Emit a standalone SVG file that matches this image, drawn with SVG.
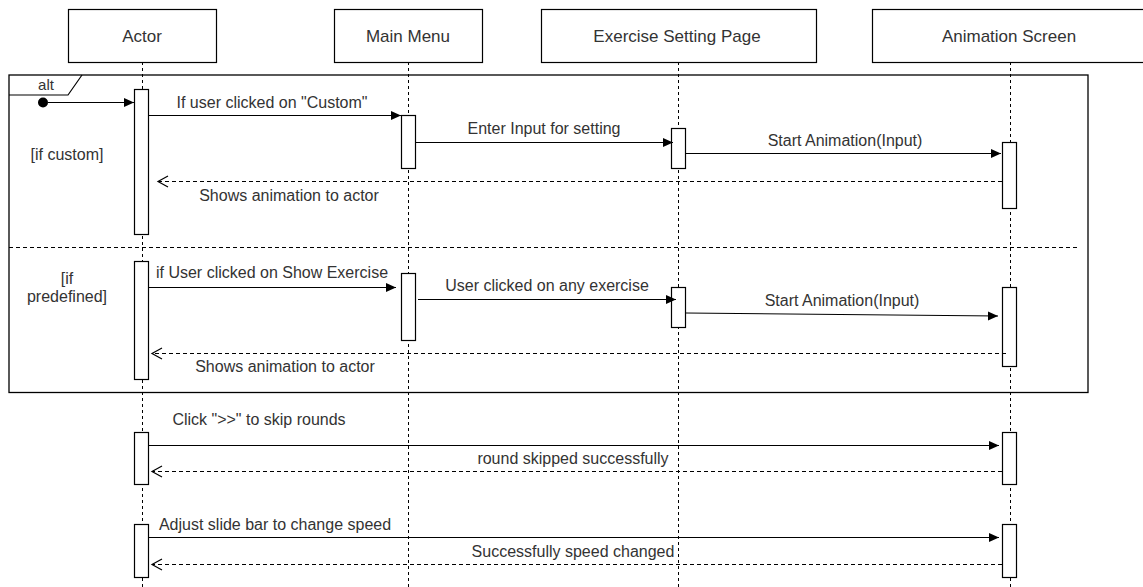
<svg xmlns="http://www.w3.org/2000/svg" width="1143" height="587" viewBox="0 0 1143 587">
  <style>
    text { font-family: "Liberation Sans", Arial, sans-serif; fill: #333; }
    .hdr { font-size: 17px; text-anchor: middle; }
    .lbl { font-size: 16px; text-anchor: middle; }
    .box { fill: #fff; stroke: #000; stroke-width: 1.2; }
    .life { stroke: #000; stroke-width: 1; stroke-dasharray: 3 3; fill: none; }
    .act { fill: #fff; stroke: #000; stroke-width: 1.2; }
    .msg { stroke: #000; stroke-width: 1.2; fill: none; marker-end: url(#block); }
    .ret { stroke: #000; stroke-width: 1; stroke-dasharray: 4 3; fill: none; marker-end: url(#open); }
    .frame { fill: none; stroke: #000; stroke-width: 1.3; }
  </style>
  <defs>
    <marker id="block" markerUnits="userSpaceOnUse" markerWidth="12" markerHeight="10" refX="10" refY="4.5" orient="auto">
      <path d="M0,0 L10,4.5 L0,9 z" fill="#000" stroke="none"/>
    </marker>
    <marker id="open" markerUnits="userSpaceOnUse" markerWidth="14" markerHeight="14" refX="11" refY="6" orient="auto">
      <path d="M1,0.5 L11,6 L1,11.5" fill="none" stroke="#000" stroke-width="1.2" stroke-dasharray="none"/>
    </marker>
  </defs>

  <!-- lifelines -->
  <g id="lifelines">
    <line class="life" x1="142.5" y1="62" x2="142.5" y2="587"/>
    <line class="life" x1="408.5" y1="62" x2="408.5" y2="587"/>
    <line class="life" x1="678.5" y1="62" x2="678.5" y2="587"/>
    <line class="life" x1="1010.5" y1="62" x2="1010.5" y2="587"/>
  </g>

  <!-- participant headers -->
  <g id="actor">
    <rect class="box" x="68.5" y="9.5" width="148" height="53"/>
    <text class="hdr" x="142" y="42">Actor</text>
  </g>
  <g id="main-menu">
    <rect class="box" x="334.5" y="9.5" width="148" height="53"/>
    <text class="hdr" x="408" y="42">Main Menu</text>
  </g>
  <g id="exercise-setting-page">
    <rect class="box" x="541.5" y="9.5" width="275" height="53"/>
    <text class="hdr" x="677" y="42">Exercise Setting Page</text>
  </g>
  <g id="animation-screen">
    <rect class="box" x="872.5" y="9.5" width="276" height="53"/>
    <text class="hdr" x="1009" y="42">Animation Screen</text>
  </g>

  <!-- alt combined fragment -->
  <g id="alt-frame">
    <rect class="frame" x="9" y="75" width="1079" height="317.5"/>
    <path d="M9,95 L68,95 L82,75" fill="none" stroke="#000" stroke-width="1.2"/>
    <text x="46" y="90" font-size="15" text-anchor="middle">alt</text>
    <line x1="9" y1="247.5" x2="1080" y2="247.5" stroke="#000" stroke-width="1" stroke-dasharray="4 3"/>
    <text class="lbl" x="67" y="160">[if custom]</text>
    <text class="lbl" x="67" y="284">[if</text>
    <text class="lbl" x="67" y="302">predefined]</text>
  </g>

  <!-- activation bars -->
  <g id="activations">
    <rect class="act" x="134.5" y="89.5" width="14" height="145"/>
    <rect class="act" x="401.5" y="115.5" width="14" height="53"/>
    <rect class="act" x="671.5" y="128.5" width="14" height="40"/>
    <rect class="act" x="1002.5" y="142.5" width="14" height="66"/>

    <rect class="act" x="134.5" y="261.5" width="14" height="118"/>
    <rect class="act" x="401.5" y="273.5" width="14" height="67"/>
    <rect class="act" x="671.5" y="287.5" width="14" height="40"/>
    <rect class="act" x="1002.5" y="287.5" width="14" height="79"/>

    <rect class="act" x="134.5" y="432.5" width="14" height="52"/>
    <rect class="act" x="1002.5" y="432.5" width="14" height="52"/>
    <rect class="act" x="134.5" y="524.5" width="14" height="53"/>
    <rect class="act" x="1002.5" y="524.5" width="14" height="53"/>
  </g>

  <!-- messages -->
  <g id="connectors">
    <circle cx="43" cy="102.5" r="5" fill="#000"/>
    <line class="msg" x1="48" y1="102.5" x2="134" y2="102.5"/>

    <line class="msg" x1="149" y1="115.5" x2="401" y2="115.5"/>
    <text class="lbl" x="272" y="108">If user clicked on "Custom"</text>

    <line class="msg" x1="415" y1="142.5" x2="673" y2="142.5"/>
    <text class="lbl" x="544" y="134">Enter Input for setting</text>

    <line class="msg" x1="686" y1="153.5" x2="1001" y2="153.5"/>
    <text class="lbl" x="845" y="146">Start Animation(Input)</text>

    <line class="ret" x1="1002" y1="181.5" x2="158" y2="181.5"/>
    <text class="lbl" x="289" y="201">Shows animation to actor</text>

    <line class="msg" x1="149" y1="287.5" x2="396" y2="287.5"/>
    <text class="lbl" x="272" y="278">if User clicked on Show Exercise</text>

    <line class="msg" x1="418" y1="299.5" x2="676" y2="299.5"/>
    <text class="lbl" x="547" y="291">User clicked on any exercise</text>

    <line class="msg" x1="686" y1="313" x2="998" y2="316"/>
    <text class="lbl" x="842" y="306">Start Animation(Input)</text>

    <line class="ret" x1="1006" y1="353.5" x2="152" y2="353.5"/>
    <text class="lbl" x="285" y="372">Shows animation to actor</text>

    <line class="msg" x1="149" y1="445.5" x2="999" y2="445.5"/>
    <text class="lbl" x="259" y="425">Click "&gt;&gt;" to skip rounds</text>

    <line class="ret" x1="1002" y1="471.5" x2="152" y2="471.5"/>
    <text class="lbl" x="573" y="464">round skipped successfully</text>

    <line class="msg" x1="149" y1="537.5" x2="999" y2="537.5"/>
    <text class="lbl" x="275" y="530">Adjust slide bar to change speed</text>

    <line class="ret" x1="1002" y1="564.5" x2="152" y2="564.5"/>
    <text class="lbl" x="573" y="557">Successfully speed changed</text>
  </g>
</svg>
